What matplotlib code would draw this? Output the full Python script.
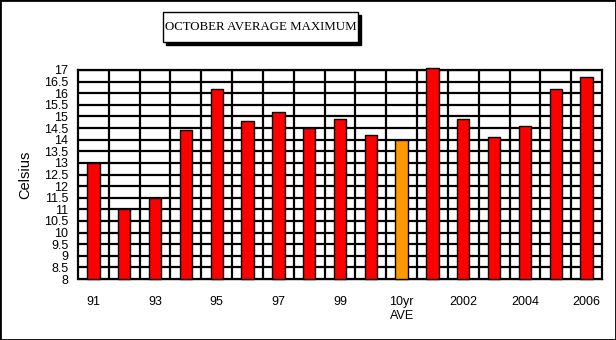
import matplotlib
matplotlib.use('Agg')
from matplotlib import pyplot as plt
from matplotlib.patches import Rectangle

years = ['91', '92', '93', '94', '95', '96', '97', '98', '99', '2000',
         '10yr\nAVE', '2001', '2002', '2003', '2004', '2005', '2006']
temps = [13.0, 11.0, 11.5, 14.4, 16.2, 14.8, 15.2, 14.5, 14.9, 14.2,
         14.0, 17.1, 14.9, 14.1, 14.6, 16.2, 16.7]
# only every other year gets a label under the axis
shown = ['91', '93', '95', '97', '99', '10yr\nAVE', '2002', '2004', '2006']

base = 8
colours = ['#FF9900' if y.startswith('10yr') else '#FF0000' for y in years]
x = list(range(len(years)))

plt.rcParams['font.family'] = 'Liberation Sans'

fig = plt.figure(figsize=(6.16, 3.40), dpi=100)
ax = fig.add_axes([78/616, 61/340, 524/616, 209/340])

# bars start at the bottom of the axis; 2001 pokes out over the top
ax.bar(x, [t - base for t in temps], bottom=base, width=0.4, color=colours,
       edgecolor='black', linewidth=1.0, zorder=3, clip_on=False)

ax.set_xlim(-0.5, len(years) - 0.5)
ax.set_ylim(base, 17)

yt = [base + 0.5*i for i in range(19)]
ax.set_yticks(yt)
ax.set_yticklabels(['%g' % v for v in yt], fontsize=9)
ax.set_xticks(x)
ax.set_xticklabels([y if y in shown else '' for y in years], fontsize=9,
                   linespacing=1.25)
ax.set_xticks([i + 0.5 for i in x[:-1]], minor=True)

ax.tick_params(axis='y', length=0, pad=7)
ax.tick_params(axis='x', which='major', direction='in', length=2,
               width=1, pad=12)
ax.tick_params(axis='x', which='minor', length=0)

ax.grid(axis='y', which='major', color='black', linewidth=1.6, zorder=1)
ax.grid(axis='x', which='minor', color='black', linewidth=1.6, zorder=1)
ax.set_axisbelow(True)

for side in ['left', 'top', 'right']:
    ax.spines[side].set_linewidth(1.6)
ax.spines['bottom'].set_linewidth(1.0)

ax.set_ylabel('Celsius', fontsize=10.5)
ax.yaxis.set_label_coords(-0.088, 0.5)

# title box with a drop shadow
bx, by, bw, bh = 163/616, 1 - 42/340, 195/616, 30/340
fig.patches.append(Rectangle((bx + 3/616, by - 3/340), bw, bh,
                             transform=fig.transFigure, facecolor='black',
                             edgecolor='black', zorder=1))
fig.patches.append(Rectangle((bx, by), bw, bh, transform=fig.transFigure,
                             facecolor='white', edgecolor='black',
                             linewidth=1.0, zorder=2))
fig.text(bx + bw/2, by + bh/2, 'OCTOBER AVERAGE MAXIMUM', ha='center',
         va='center', fontsize=9.3, family='Liberation Serif', zorder=3)

# frame round the whole figure
fig.patches.append(Rectangle((0, 0), 1, 1, transform=fig.transFigure,
                             fill=False, edgecolor='black', linewidth=2.0))

fig.savefig('out.png', dpi=100)
